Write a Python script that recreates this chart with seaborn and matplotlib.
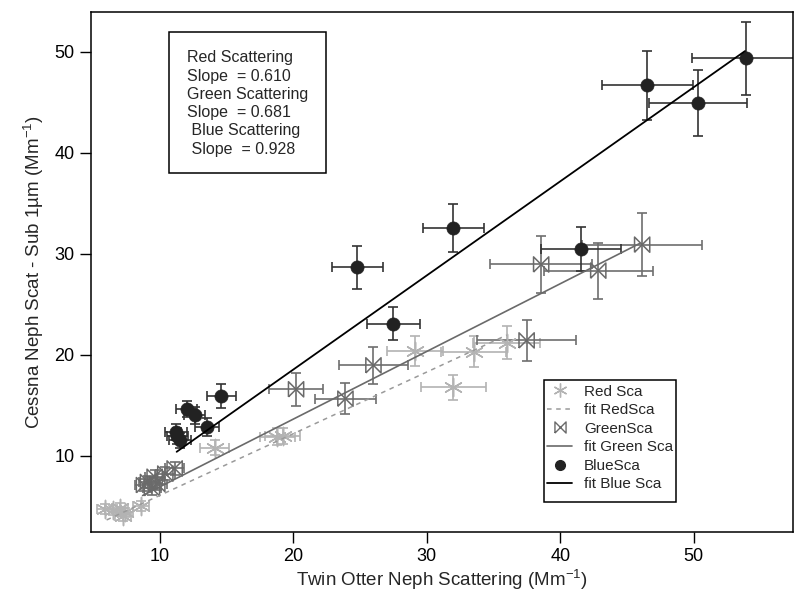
import numpy as np, pandas as pd
import matplotlib; matplotlib.use("Agg")
import matplotlib.pyplot as plt
from matplotlib.lines import Line2D
from matplotlib.patches import Rectangle
import seaborn as sns

sns.set_theme(style="ticks")
plt.rcParams.update({"font.family": ["Liberation Sans", "DejaVu Sans"],
                     "mathtext.default": "regular"})

# ---- data ----
red_x = [5.9, 6.5, 7.0, 7.2, 7.4, 8.6, 14.1, 18.8, 19.2, 29.1, 33.5, 35.98, 32.0]
red_y = [4.74, 4.64, 4.85, 4.02, 4.43, 5.05, 10.82, 11.91, 11.96, 20.41, 20.31, 21.23, 16.8]
red_xerr = [0.6, 0.6, 0.6, 0.6, 0.6, 0.6, 1.1, 1.3, 1.3, 2.1, 2.4, 2.5, 2.4]
red_yerr = [0.46, 0.46, 0.46, 0.46, 0.46, 0.46, 0.72, 0.82, 0.82, 1.5, 1.55, 1.6, 1.24]

green_x = [8.8, 9.1, 9.4, 9.6, 9.8, 10.4, 11.1, 20.2, 23.9, 26.0, 37.48, 38.57, 42.85, 46.14]
green_y = [7.11, 7.42, 6.8, 7.94, 7.22, 8.25, 8.76, 16.6, 15.67, 18.97, 21.44, 28.96, 28.35, 30.92]
green_xerr = [0.7, 0.7, 0.7, 0.7, 0.7, 0.7, 0.7, 2.0, 2.3, 2.6, 3.7, 3.8, 4.1, 4.5]
green_yerr = [0.62, 0.62, 0.62, 0.62, 0.62, 0.62, 0.62, 1.65, 1.55, 1.86, 2.06, 2.78, 2.78, 3.09]

blue_x = [11.2, 11.3, 11.5, 12.0, 12.6, 13.5, 14.6, 24.8, 27.5, 32.0, 41.56, 46.53, 50.32, 53.9]
blue_y = [12.37, 11.96, 11.55, 14.64, 14.02, 12.83, 15.93, 28.66, 23.09, 32.57, 30.51, 46.69, 44.94, 49.37]
blue_xerr = [0.8, 0.8, 0.8, 0.8, 0.8, 0.9, 1.1, 1.9, 2.0, 2.3, 3.0, 3.4, 3.7, 4.0]
blue_yerr = [0.77, 0.77, 0.77, 0.82, 0.82, 0.88, 1.19, 2.16, 1.65, 2.37, 2.16, 3.4, 3.3, 3.61]

# fit line end points
red_fit_x = [6.0, 35.98];   red_fit_y = [3.66, 21.96]
green_fit_x = [8.7, 45.94]; green_fit_y = [6.08, 31.03]
blue_fit_x = [11.25, 53.85]; blue_fit_y = [10.41, 50.09]

slope_lines = ["Red Scattering", "Slope  = 0.610", "Green Scattering",
               "Slope  = 0.681", " Blue Scattering", " Slope  = 0.928"]

RED, GREEN, BLUE = "#b3b3b3", "#6a6a6a", "#222222"
BOWTIE = [(-1, -1), (-1, 1), (1, -1), (1, 1), (-1, -1)]
ASTER = (6, 2, 0)

fig = plt.figure(figsize=(7.94, 6.02), dpi=100)
ax = fig.add_axes([0.1146, 0.1168, 0.8842, 0.8633])

series = [
    (red_x, red_y, red_xerr, red_yerr, RED, ASTER, 170, "#b3b3b3"),
    (green_x, green_y, green_xerr, green_yerr, GREEN, BOWTIE, 120, "#6e6e6e"),
    (blue_x, blue_y, blue_xerr, blue_yerr, BLUE, "o", 90, "#333333"),
]
for x, y, xe, ye, col, mk, s, ecol in series:
    df = pd.DataFrame({"x": x, "y": y})
    ax.errorbar(x, y, xerr=xe, yerr=ye, fmt="none", ecolor=ecol,
                elinewidth=1.2, capsize=3.5, capthick=1.2, zorder=2)
    if mk == "o":
        sns.scatterplot(data=df, x="x", y="y", ax=ax, marker="o", s=s,
                        color=col, edgecolor=col, linewidth=0.5, zorder=3)
    elif mk == ASTER:
        sns.scatterplot(data=df, x="x", y="y", ax=ax, marker=mk, s=s,
                        color=col, linewidth=1.1, zorder=3)
    else:
        sns.scatterplot(data=df, x="x", y="y", ax=ax, marker=mk, s=s,
                        facecolor="none", edgecolor=col, linewidth=1.1, zorder=3)

sns.lineplot(x=red_fit_x, y=red_fit_y, ax=ax, color="#9a9a9a", lw=1.1,
             linestyle=(0, (3, 3)), zorder=4)
sns.lineplot(x=green_fit_x, y=green_fit_y, ax=ax, color=GREEN, lw=1.2, zorder=4)
sns.lineplot(x=blue_fit_x, y=blue_fit_y, ax=ax, color="black", lw=1.3, zorder=4)

ax.set_xlim(4.83, 57.45)
ax.set_ylim(2.5, 53.96)
ax.set_xticks([10, 20, 30, 40, 50])
ax.set_yticks([10, 20, 30, 40, 50])
ax.tick_params(direction="out", length=8, width=1, labelsize=13, colors="black", pad=4)
for sp in ax.spines.values():
    sp.set_visible(True); sp.set_color("black"); sp.set_linewidth(1.1)
ax.set_xlabel("Twin Otter Neph Scattering (Mm$^{-1}$)", fontsize=13.5, labelpad=2)
ax.set_ylabel("Cessna Neph Scat - Sub 1µm (Mm$^{-1}$)", fontsize=13.5, labelpad=6)

# slope box
ax.add_patch(Rectangle((0.1115, 0.690), 0.2228, 0.272, transform=ax.transAxes,
                       fill=False, edgecolor="black", lw=1.1, zorder=5))
for i, t in enumerate(slope_lines):
    ax.text(0.1368, 0.912 - i * 0.0352, t, transform=ax.transAxes,
            fontsize=11.5, va="center", ha="left", zorder=6)

handles = [
    Line2D([], [], ls="none", marker=ASTER, color=RED, ms=10, mew=1.0),
    Line2D([], [], color="#9a9a9a", lw=1.1, ls=(0, (3, 3))),
    Line2D([], [], ls="none", marker=BOWTIE, color=GREEN, mfc="none", ms=8, mew=1.0),
    Line2D([], [], color=GREEN, lw=1.2),
    Line2D([], [], ls="none", marker="o", color=BLUE, ms=7),
    Line2D([], [], color="black", lw=1.3),
]
labels = ["Red Sca", "fit RedSca", "GreenSca", "fit Green Sca", "BlueSca", "fit Blue Sca"]
ax.add_patch(Rectangle((0.645, 0.0577), 0.188, 0.2342, transform=ax.transAxes,
                       facecolor="white", edgecolor="black", lw=1.1, zorder=5))
leg = ax.legend(handles, labels, loc="upper left", bbox_to_anchor=(0.6435, 0.2919),
                borderaxespad=0, fontsize=11, frameon=False,
                handlelength=1.6, handletextpad=0.8, borderpad=0.3,
                labelspacing=0.3)
leg.set_zorder(6)

fig.savefig("out.png", dpi=100)
